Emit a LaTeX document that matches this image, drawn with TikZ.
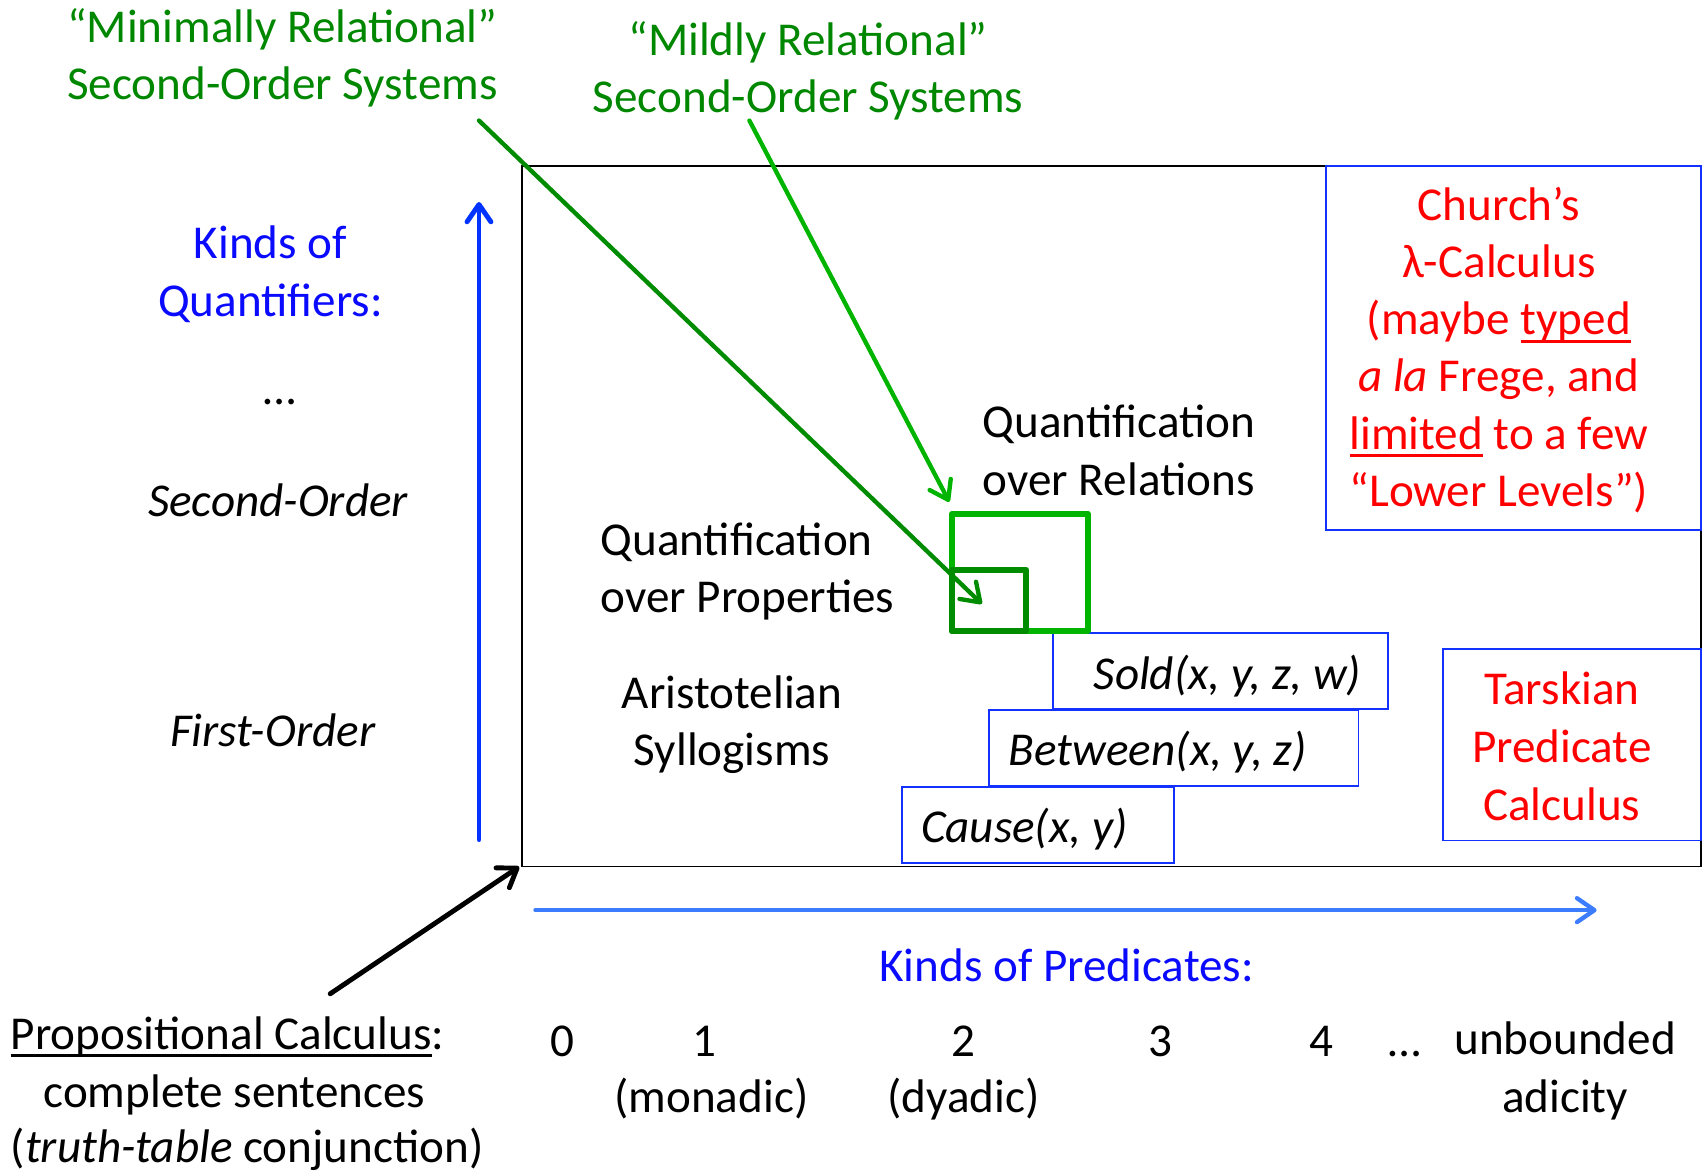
\documentclass[tikz,border=0pt]{standalone}
\usepackage{fontspec}
\setmainfont{Carlito}
\usetikzlibrary{arrows.meta}

\definecolor{gtext}{RGB}{0,135,0}
\definecolor{glight}{RGB}{0,180,0}
\definecolor{gdark}{RGB}{0,140,0}
\definecolor{btext}{RGB}{10,10,255}
\definecolor{barrow}{RGB}{0,51,255}
\definecolor{blight}{RGB}{60,125,255}
\definecolor{bbox}{RGB}{20,50,255}
\definecolor{rtext}{RGB}{255,0,0}

% underline at a fixed depth below the baseline
\newsavebox\ulbox
\newcommand\ulined[1]{\sbox\ulbox{#1}\rlap{\rule[-0.17em]{\wd\ulbox}{0.065em}}\usebox\ulbox}

\begin{document}
\begin{tikzpicture}[x=1pt,y=-1pt,
  lbl/.style={inner sep=0pt, outer sep=0pt, font=\fontsize{43.4}{53}\selectfont, align=center, anchor=base},
  lblw/.style={lbl, anchor=base west, align=left},
  itl/.style={font=\fontsize{43.4}{53}\selectfont\itshape},
  frame/.style={draw=black, line width=1.6pt, inner sep=0pt, anchor=north west},
  bluebox/.style={draw=bbox, line width=1.6pt, inner sep=0pt, anchor=north west},
  barb/.style={-{Straight Barb[length=16pt,width=22pt,round]}, line cap=round},
  sq/.style={line width=5.5pt, line join=round}]
\useasboundingbox (0,0) rectangle (1568,1079);

% main frame and the boxes on it
\node[frame, minimum width=1085pt, minimum height=645pt] (main) at (480,152) {};
\node[bluebox, minimum width=345pt, minimum height=335pt] (churchbox) at (1220,152) {};
\node[bluebox, minimum width=237pt, minimum height=176pt] (tarskibox) at (1328,597) {};
\node[bluebox, minimum width=250pt, minimum height=70pt] (causebox) at (830,724) {};
\node[bluebox, minimum width=340pt, minimum height=70pt] (betweenbox) at (910,653) {};
\node[bluebox, minimum width=308pt, minimum height=70pt] (soldbox) at (969,582) {};

% nested squares
\draw[sq, glight] (876.5,473) rectangle (1001.5,581);
\draw[sq, gdark] (876.5,524.5) rectangle (945,581);
\coordinate (relsq) at (874,462);
\coordinate (propsq) at (904,556);

% top labels (multi-line nodes are placed by their last baseline)
\node[lbl, text=gtext] (minimal) at (260,92) {“Minimally Relational”\\Second-Order Systems};
\node[lbl, text=gtext] (mildly) at (744,104) {“Mildly Relational”\\Second-Order Systems};
\coordinate (minimalfoot) at (441,111);
\coordinate (mildlyfoot) at (690,111);

% vertical axis
\node[lbl, text=btext] (kq) at (249,291) {Kinds of\\Quantifiers:};
\node[lbl] (vdots) at (258,372) {…};
\node[lbl, itl] (so) at (256,476) {Second-Order};
\node[lbl, itl] (fo) at (251,687) {First-Order};
\coordinate (qlow) at (441,773);
\coordinate (qhigh) at (441,186);

% inner labels
\node[lblw] (qr) at (905,456) {Quantification\\over Relations};
\node[lblw] (qp) at (553,564) {Quantification\\over Properties};
\node[lbl] (ar) at (674,705) {Aristotelian\\Syllogisms};
\node[lbl, text=rtext, font=\fontsize{43.4}{52.6}\selectfont] (church) at (1380,466) {Church’s\\λ-Calculus\\(maybe \ulined{typed}\\\textit{a la} Frege, and\\\ulined{limited} to a few\\“Lower Levels”)};
\node[lbl, text=rtext] (tarski) at (1438,755) {Tarskian\\Predicate\\Calculus};
\node[lblw, itl] (sold) at (1007,635) {\textit{Sold(x, y, z, w)}};
\node[lblw, itl] (between) at (929,705) {\textit{Between(x, y, z)}};
\node[lblw, itl] (cause) at (848,776) {\textit{Cause(x, y)}};

% horizontal axis
\coordinate (pleft) at (493,838);
\coordinate (pright) at (1470,838);
\node[lbl, text=btext] (kp) at (982,904) {Kinds of Predicates:};
\node[lbl] (n0) at (518,973) {0};
\node[lbl] (n1) at (649,973) {1};
\node[lbl] (mon) at (655,1024) {(monadic)};
\node[lbl] (n2) at (887,973) {2};
\node[lbl] (dy) at (887,1024) {(dyadic)};
\node[lbl] (n3) at (1068,973) {3};
\node[lbl] (n4) at (1217,973) {4};
\node[lbl] (hdots) at (1293,973) {…};
\node[lbl] (unb) at (1441,1024) {unbounded\\adicity};

% propositional calculus
\node[lblw] (pc1) at (10,966) {\ulined{Propositional Calculus}:};
\node[lblw] (pc2) at (40,1020) {complete sentences};
\node[lblw] (pc3) at (10,1070) {(\textit{truth-table} conjunction)};
\coordinate (pcfoot) at (304,915);
\coordinate (origin) at (478,798);

% arrows
\draw[barb, barrow, line width=4.5pt] (qlow) -- (qhigh);
\draw[barb, blight, line width=4pt] (pleft) -- (pright);
\draw[barb, black, line width=4.5pt] (pcfoot) -- (origin);
\draw[barb, glight, line width=4pt] (mildlyfoot) -- (relsq);
\draw[barb, gdark, line width=4pt] (minimalfoot) -- (propsq);
\end{tikzpicture}
\end{document}
